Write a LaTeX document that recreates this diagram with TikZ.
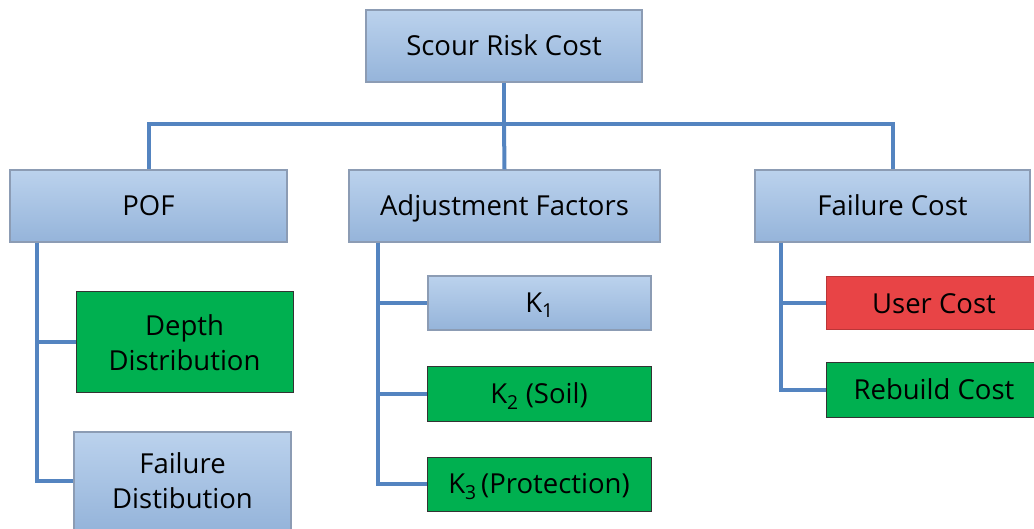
\documentclass[tikz,border=0pt]{standalone}
\usepackage{fontspec}
\setmainfont{Open Sans}
\usepackage{xcolor}
\usepackage{tikz}

\definecolor{boxtop}{RGB}{187,210,237}
\definecolor{boxbot}{RGB}{149,180,218}
\definecolor{boxedge}{RGB}{140,156,180}
\definecolor{boxgreen}{RGB}{0,176,80}
\definecolor{boxred}{RGB}{232,68,70}
\definecolor{linkblue}{RGB}{84,132,192}

\begin{document}
\begin{tikzpicture}[x=1pt,y=-1pt,
	every node/.style={font=\fontsize{27.5}{35}\selectfont,inner sep=0pt,align=center},
	oneline/.style={text height=19.5pt,text depth=0pt},
	bluebox/.style={draw=boxedge,line width=1.2pt,top color=boxtop,bottom color=boxbot},
	greenbox/.style={draw=black!80,line width=1pt,fill=boxgreen},
	redbox/.style={draw=boxred!80!black,line width=1pt,fill=boxred},
	link/.style={draw=linkblue,line width=4pt}]
	\useasboundingbox (0,0) rectangle (1034,529);
	% top level
	\node[bluebox,oneline,minimum width=276pt,minimum height=72pt] at (504,46) (risk) {Scour Risk Cost};
	\node[bluebox,oneline,minimum width=277pt,minimum height=72pt] at (148.5,206) (pof) {POF};
	\node[bluebox,oneline,minimum width=311pt,minimum height=72pt] at (504.5,206) (adj) {Adjustment Factors};
	\node[bluebox,oneline,minimum width=275pt,minimum height=72pt] at (892.5,206) (fcost) {Failure Cost};
	% children
	\node[greenbox,minimum width=217pt,minimum height=101pt] at (184.5,342.5) (depth) {Depth\\Distribution};
	\node[bluebox,minimum width=217pt,minimum height=98pt] at (182.5,481) (fdist) {Failure\\Distibution};
	\node[bluebox,oneline,minimum width=223pt,minimum height=54pt] at (539.5,303) (k1) {K\textsubscript{1}};
	\node[greenbox,oneline,minimum width=224pt,minimum height=54pt] at (539,394) (k2) {K\textsubscript{2} (Soil)};
	\node[greenbox,oneline,minimum width=224pt,minimum height=54pt] at (539,484) (k3) {K\textsubscript{3}\,(Protection)};
	\node[redbox,oneline,minimum width=216pt,minimum height=53pt] at (934,303.5) (user) {User Cost};
	\node[greenbox,oneline,minimum width=216pt,minimum height=54pt] at (934,390) (rebuild) {Rebuild Cost};
	% connectors
	\coordinate (bus) at (504,124);
	\coordinate (pofstem) at ([xshift=28pt]pof.south west);
	\coordinate (adjstem) at ([xshift=30pt]adj.south west);
	\coordinate (fcoststem) at ([xshift=27pt]fcost.south west);
	\draw[link] (risk.south) -- (bus);
	\draw[link] (bus) -| (pof.north);
	\draw[link] (bus) -- (adj.north);
	\draw[link] (bus) -| (fcost.north);
	\draw[link] (pofstem) |- (depth.west);
	\draw[link] (pofstem) |- (fdist.west);
	\draw[link] (adjstem) |- (k1.west);
	\draw[link] (adjstem) |- (k2.west);
	\draw[link] (adjstem) |- (k3.west);
	\draw[link] (fcoststem) |- (user.west);
	\draw[link] (fcoststem) |- (rebuild.west);
\end{tikzpicture}
\end{document}
